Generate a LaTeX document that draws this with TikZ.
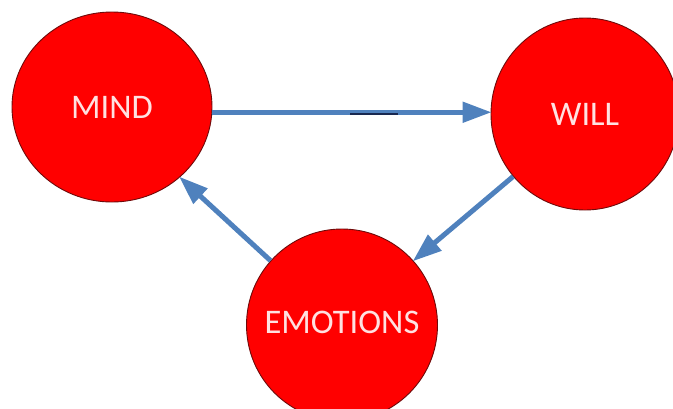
\documentclass[tikz,border=0pt]{standalone}
\usepackage{fontspec}
\setmainfont{Carlito}
\usetikzlibrary{shapes.geometric,arrows.meta}
\definecolor{circred}{RGB}{255,0,0}
\definecolor{circedge}{RGB}{110,10,10}
\definecolor{arrblue}{RGB}{79,129,189}
\definecolor{txtpink}{RGB}{255,225,225}
\definecolor{darknavy}{RGB}{25,40,80}
\tikzset{
  bubble/.style={ellipse, draw=circedge, line width=0.9pt, fill=circred, inner sep=0pt,
    text=txtpink, font=\fontsize{34.5}{34.5}\selectfont},
  flow/.style={draw=arrblue, line width=5pt,
    -{Triangle[length=29pt,width=20pt]}, shorten >=-1pt}
}
\begin{document}
\begin{tikzpicture}[x=1pt,y=-1pt]
\useasboundingbox (0,0) rectangle (673,408);
\clip (0,0) rectangle (673,408);
\node[bubble, minimum width=200pt, minimum height=190pt] (mind) at (112,107) {MIND};
\node[bubble, minimum width=188pt, minimum height=192pt] (will) at (585,114) {WILL};
\node[bubble, minimum width=191pt, minimum height=192pt] (emo) at (342,325) {};
\node[text=txtpink, font=\fontsize{34.5}{34.5}\selectfont, inner sep=0pt] (emotxt) at (342,322) {EMOTIONS};
\draw[flow] (mind.-3.6) -- (mind.-3.6 -| will.west);
\coordinate (lblA) at (350,113.5);
\coordinate (lblB) at (398,113.5);
\draw[darknavy, line width=2pt] (lblA) -- (lblB);
\draw[flow] (will.221.5) -- (emo.42.5);
\draw[flow] (emo.138) -- (mind.-46.7);
\end{tikzpicture}
\end{document}
